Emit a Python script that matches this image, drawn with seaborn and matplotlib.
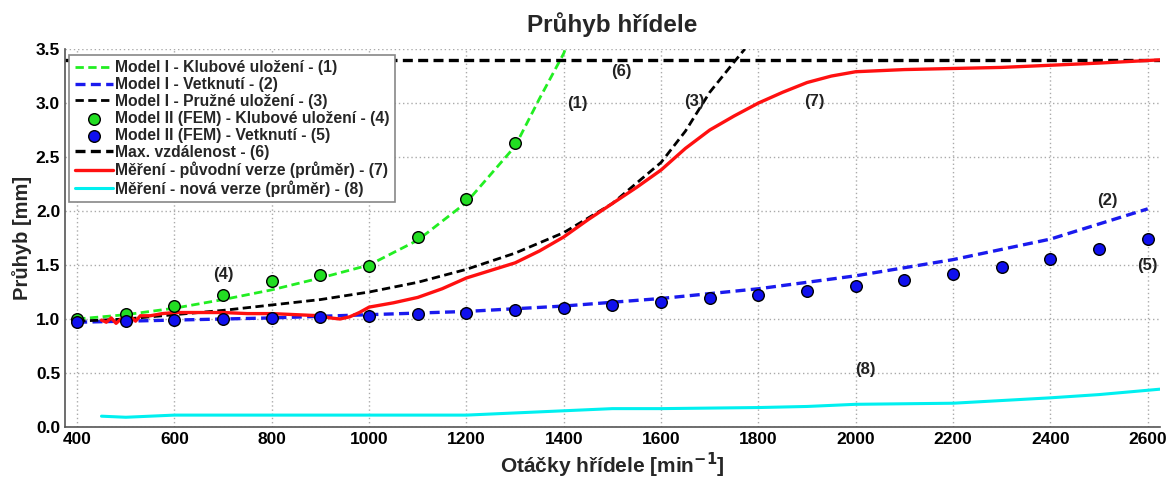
import numpy as np
import pandas as pd
import matplotlib
matplotlib.use("Agg")
import matplotlib.pyplot as plt
import seaborn as sns

# ---- data ----
m1_klub_x = [400, 500, 600, 700, 800, 900, 1000, 1100, 1200, 1300, 1350, 1400, 1403]
m1_klub_y = [1.00, 1.04, 1.10, 1.18, 1.27, 1.38, 1.50, 1.73, 2.08, 2.60, 3.04, 3.46, 3.50]

m1_vet_x = [400, 600, 800, 1000, 1200, 1400, 1600, 1800, 2000, 2200, 2400, 2600]
m1_vet_y = [0.97, 0.99, 1.01, 1.04, 1.07, 1.12, 1.19, 1.28, 1.40, 1.55, 1.74, 2.02]

m1_pruz_x = [400, 500, 600, 700, 800, 900, 1000, 1100, 1200, 1300, 1400, 1500, 1600, 1650, 1700, 1750, 1772]
m1_pruz_y = [0.98, 1.00, 1.04, 1.08, 1.13, 1.18, 1.25, 1.34, 1.46, 1.61, 1.80, 2.07, 2.45, 2.74, 3.10, 3.38, 3.50]

fem_klub_x = [400, 500, 600, 700, 800, 900, 1000, 1100, 1200, 1300]
fem_klub_y = [1.00, 1.05, 1.12, 1.22, 1.35, 1.41, 1.49, 1.76, 2.11, 2.63]

fem_vet_x = [400, 500, 600, 700, 800, 900, 1000, 1100, 1200, 1300, 1400, 1500,
             1600, 1700, 1800, 1900, 2000, 2100, 2200, 2300, 2400, 2500, 2600]
fem_vet_y = [0.97, 0.98, 0.99, 1.00, 1.01, 1.02, 1.03, 1.05, 1.06, 1.08, 1.10, 1.13,
             1.16, 1.19, 1.22, 1.26, 1.31, 1.36, 1.42, 1.48, 1.56, 1.65, 1.74]

max_x = [375, 2625]
max_y = [3.40, 3.40]

mer_old_x = [450, 460, 470, 480, 490, 500, 510, 520, 530, 550, 575, 600, 650, 700, 750, 800,
             850, 900, 920, 940, 960, 980, 1000, 1050, 1100, 1150, 1200, 1250, 1300, 1350,
             1400, 1450, 1500, 1550, 1600, 1650, 1700, 1750, 1800, 1850, 1900, 1950, 2000,
             2050, 2100, 2200, 2300, 2400, 2500, 2625]
mer_old_y = [0.99, 0.97, 1.01, 0.96, 1.00, 0.97, 1.02, 0.98, 1.03, 1.03, 1.05, 1.06, 1.06, 1.06,
             1.05, 1.05, 1.04, 1.03, 1.01, 1.00, 1.02, 1.06, 1.11, 1.15, 1.20, 1.28, 1.38,
             1.45, 1.52, 1.63, 1.76, 1.92, 2.07, 2.22, 2.38, 2.58, 2.75, 2.88, 3.00, 3.10,
             3.19, 3.25, 3.29, 3.30, 3.31, 3.32, 3.33, 3.35, 3.37, 3.40]

mer_new_x = [450, 500, 600, 800, 1000, 1200, 1300, 1400, 1500, 1600, 1800, 1900, 2000,
             2200, 2400, 2500, 2625]
mer_new_y = [0.10, 0.09, 0.11, 0.11, 0.11, 0.11, 0.13, 0.15, 0.17, 0.17, 0.18, 0.19, 0.21,
             0.22, 0.27, 0.30, 0.35]

labels = ["(1)", "(6)", "(3)", "(7)", "(2)", "(5)", "(4)", "(8)"]
label_x = [1427, 1519, 1669, 1915, 2517, 2600, 700, 2020]
label_y = [3.00, 3.29, 3.01, 3.01, 2.10, 1.50, 1.41, 0.53]

xticks = list(range(400, 2601, 200))
yticks = [0.0, 0.5, 1.0, 1.5, 2.0, 2.5, 3.0, 3.5]

# ---- style ----
sns.set_style("white")
plt.rcParams["font.family"] = ["Liberation Sans", "DejaVu Sans"]
plt.rcParams["font.weight"] = "bold"
plt.rcParams["mathtext.default"] = "bf"

fig = plt.figure(figsize=(11.71, 4.79), dpi=100)
ax = fig.add_axes([0.0555, 0.1086, 0.935, 0.789])

def line(x, y, color, ls, lw, label):
    df = pd.DataFrame({"x": x, "y": y})
    sns.lineplot(data=df, x="x", y="y", ax=ax, color=color, linestyle=ls,
                 linewidth=lw, label=label, sort=False, estimator=None)

line(m1_klub_x, m1_klub_y, "#22ee22", (0, (3, 1.6)), 2.0, "Model I - Klubové uložení - (1)")
line(m1_vet_x, m1_vet_y, "#1a1aee", (0, (3, 1.6)), 2.4, "Model I - Vetknutí - (2)")
line(m1_pruz_x, m1_pruz_y, "black", (0, (3, 1.6)), 2.0, "Model I - Pružné uložení - (3)")

dk = pd.DataFrame({"x": fem_klub_x, "y": fem_klub_y})
sns.scatterplot(data=dk, x="x", y="y", ax=ax, color="#22dd22", edgecolor="black",
                s=70, linewidth=1.0, zorder=5, label="Model II (FEM) - Klubové uložení - (4)")
dv = pd.DataFrame({"x": fem_vet_x, "y": fem_vet_y})
sns.scatterplot(data=dv, x="x", y="y", ax=ax, color="#1010ee", edgecolor="black",
                s=70, linewidth=1.0, zorder=5, label="Model II (FEM) - Vetknutí - (5)")

line(max_x, max_y, "black", (0, (3, 1.6)), 2.4, "Max. vzdálenost - (6)")
line(mer_old_x, mer_old_y, "#ff1010", "-", 2.4, "Měření - původní verze (průměr) - (7)")
line(mer_new_x, mer_new_y, "#00f0f0", "-", 2.2, "Měření - nová verze (průměr) - (8)")

for t, x, y in zip(labels, label_x, label_y):
    ax.text(x, y, t, ha="center", va="center", fontsize=12, fontweight="bold", color="#222222")

ax.set_xlim(375, 2625)
ax.set_ylim(0, 3.5)
ax.set_xticks(xticks)
ax.set_yticks(yticks)
ax.set_yticklabels([f"{v:.1f}" for v in yticks])
ax.tick_params(direction="in", length=5, labelsize=12.5, colors="#444444", labelcolor="black")
for lab in ax.get_xticklabels() + ax.get_yticklabels():
    lab.set_fontweight("bold")
ax.grid(True, linestyle=(0, (1, 2)), color="#aaaaaa", linewidth=1.0)
ax.spines["top"].set_visible(False)
ax.spines["right"].set_visible(False)
for s in ["left", "bottom"]:
    ax.spines[s].set_color("#555555")
    ax.spines[s].set_linewidth(1.2)

ax.set_xlabel(r"Otáčky hřídele [min$^{-1}$]", fontsize=15, fontweight="bold", labelpad=3)
ax.set_ylabel("Průhyb [mm]", fontsize=14.5, fontweight="bold", labelpad=3)
ax.set_title("Průhyb hřídele", fontsize=17.5, fontweight="bold", pad=12)

leg = ax.legend(loc="upper left", fontsize=11.3, handlelength=2.4, handletextpad=0.15,
                labelspacing=0.12, borderpad=0.35, frameon=True, fancybox=False,
                framealpha=1.0, bbox_to_anchor=(0.004, 0.985), borderaxespad=0.0)
leg.set_zorder(10)
leg.get_frame().set_edgecolor("#888888")
leg.get_frame().set_linewidth(1.2)
for t in leg.get_texts():
    t.set_fontweight("bold")

fig.savefig("out.png", dpi=100)
